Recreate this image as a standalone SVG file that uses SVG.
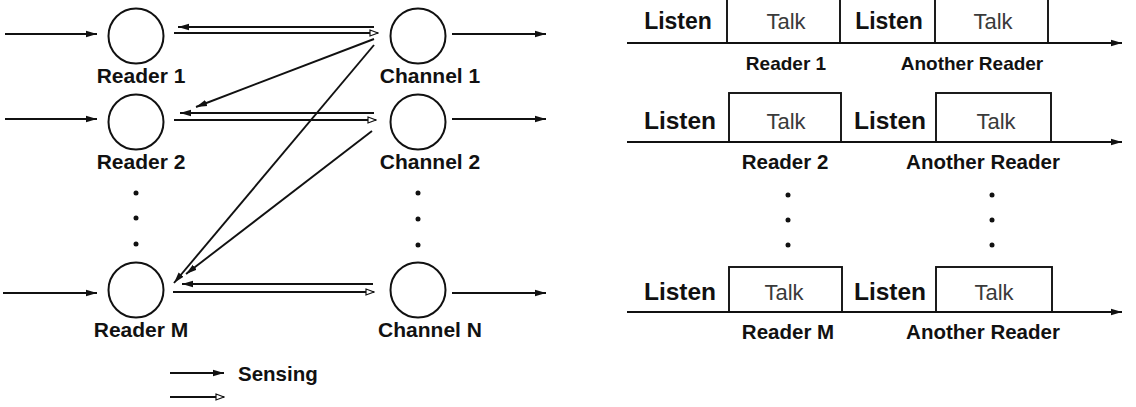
<svg xmlns="http://www.w3.org/2000/svg" width="1136" height="407" viewBox="0 0 1136 407">
  <style>
    .ln { stroke: #111; stroke-width: 1.9; fill: none; }
    .nd { stroke: #111; stroke-width: 2; fill: #fff; }
    .lbl { font-family: "Liberation Sans", Arial, sans-serif; font-weight: bold; font-size: 21px; fill: #111; text-anchor: middle; }
    .sub { font-family: "Liberation Sans", Arial, sans-serif; font-weight: bold; font-size: 20.5px; fill: #111; text-anchor: middle; }
    .sub1 { font-size: 19px; }
    .big { font-family: "Liberation Sans", Arial, sans-serif; font-weight: bold; font-size: 24.5px; fill: #111; text-anchor: middle; }
    .big1 { font-size: 23px; }
    .talk { font-family: "Liberation Sans", Arial, sans-serif; font-size: 22px; fill: #3a3a3a; text-anchor: middle; }
    .dot { fill: #111; }
  </style>
  <defs>
    <marker id="solid" markerUnits="userSpaceOnUse" markerWidth="12" markerHeight="8" refX="11" refY="4" orient="auto">
      <path d="M0,0.8 L11,4 L0,7.2 Z" fill="#111"/>
    </marker>
    <marker id="open" markerUnits="userSpaceOnUse" markerWidth="10" markerHeight="8" refX="9" refY="4" orient="auto">
      <path d="M1,1 L9,4 L1,7 Z" fill="#fff" stroke="#111" stroke-width="1.2"/>
    </marker>
  </defs>

  <!-- readers -->
  <g id="reader-1">
    <circle class="nd" cx="136" cy="36" r="27.5"/>
    <text class="lbl" x="141" y="83">Reader 1</text>
  </g>
  <g id="reader-2">
    <circle class="nd" cx="136" cy="122" r="27.5"/>
    <text class="lbl" x="141" y="169">Reader 2</text>
  </g>
  <g id="reader-m">
    <circle class="nd" cx="136" cy="290" r="27.5"/>
    <text class="lbl" x="141" y="337">Reader M</text>
  </g>

  <!-- channels -->
  <g id="channel-1">
    <circle class="nd" cx="418" cy="36" r="27.5"/>
    <text class="lbl" x="430" y="83">Channel 1</text>
  </g>
  <g id="channel-2">
    <circle class="nd" cx="418" cy="122" r="27.5"/>
    <text class="lbl" x="430" y="169">Channel 2</text>
  </g>
  <g id="channel-n">
    <circle class="nd" cx="418" cy="290" r="27.5"/>
    <text class="lbl" x="430" y="337">Channel N</text>
  </g>

  <!-- vertical ellipsis dots -->
  <g id="ellipsis-left">
    <circle class="dot" cx="136" cy="193" r="2.5"/>
    <circle class="dot" cx="136" cy="218" r="2.5"/>
    <circle class="dot" cx="136" cy="244" r="2.5"/>
    <circle class="dot" cx="418" cy="193" r="2.5"/>
    <circle class="dot" cx="418" cy="219" r="2.5"/>
    <circle class="dot" cx="418" cy="245" r="2.5"/>
  </g>

  <!-- connectors -->
  <g id="connectors">
    <!-- inputs to readers -->
    <line class="ln" x1="5" y1="34" x2="97" y2="34" marker-end="url(#solid)"/>
    <line class="ln" x1="5" y1="119" x2="97" y2="119" marker-end="url(#solid)"/>
    <line class="ln" x1="3" y1="293" x2="97" y2="293" marker-end="url(#solid)"/>
    <!-- channel outputs -->
    <line class="ln" x1="452" y1="34" x2="546" y2="34" marker-end="url(#solid)"/>
    <line class="ln" x1="452" y1="119" x2="546" y2="119" marker-end="url(#solid)"/>
    <line class="ln" x1="452" y1="293" x2="546" y2="293" marker-end="url(#solid)"/>
    <!-- reader 1 / channel 1 pair -->
    <line class="ln" x1="374" y1="27" x2="178" y2="27" marker-end="url(#solid)"/>
    <line class="ln" x1="174" y1="33" x2="378" y2="33" marker-end="url(#open)"/>
    <!-- reader 2 / channel 2 pair -->
    <line class="ln" x1="374" y1="113" x2="180" y2="113" marker-end="url(#solid)"/>
    <line class="ln" x1="174" y1="120" x2="376" y2="120" marker-end="url(#open)"/>
    <!-- reader M / channel N pair -->
    <line class="ln" x1="373" y1="284" x2="182" y2="284" marker-end="url(#solid)"/>
    <line class="ln" x1="173" y1="292" x2="374" y2="292" marker-end="url(#open)"/>
    <!-- cross links -->
    <line class="ln" x1="374" y1="39" x2="196" y2="107" marker-end="url(#solid)"/>
    <line class="ln" x1="374" y1="45" x2="174" y2="283" marker-end="url(#solid)"/>
    <line class="ln" x1="372" y1="131" x2="186" y2="274" marker-end="url(#solid)"/>
    <!-- legend arrows -->
    <line class="ln" x1="170" y1="373" x2="224" y2="373" marker-end="url(#solid)"/>
    <line class="ln" x1="170" y1="397" x2="224" y2="397" marker-end="url(#open)"/>
  </g>
  <text class="sub" x="238" y="381" style="text-anchor:start">Sensing</text>

  <!-- timeline rows -->
  <g id="timeline-1">
    <line class="ln" x1="627" y1="43" x2="1122" y2="43" marker-end="url(#solid)"/>
    <line class="ln" x1="727" y1="0" x2="727" y2="43"/>
    <line class="ln" x1="840" y1="0" x2="840" y2="43"/>
    <line class="ln" x1="935" y1="0" x2="935" y2="43"/>
    <line class="ln" x1="1048" y1="0" x2="1048" y2="43"/>
    <text class="big big1" x="678" y="29">Listen</text>
    <text class="talk" x="786" y="29">Talk</text>
    <text class="big big1" x="889" y="29">Listen</text>
    <text class="talk" x="993" y="29">Talk</text>
    <text class="sub sub1" x="786" y="70">Reader 1</text>
    <text class="sub sub1" x="972" y="70">Another Reader</text>
  </g>
  <g id="timeline-2">
    <line class="ln" x1="627" y1="142" x2="1122" y2="142" marker-end="url(#solid)"/>
    <rect class="ln" x="729" y="93" width="112" height="49"/>
    <rect class="ln" x="936" y="93" width="115" height="49"/>
    <text class="big" x="680" y="129">Listen</text>
    <text class="talk" x="786" y="129">Talk</text>
    <text class="big" x="890" y="129">Listen</text>
    <text class="talk" x="996" y="129">Talk</text>
    <text class="sub" x="785" y="169">Reader 2</text>
    <text class="sub" x="983" y="169">Another Reader</text>
  </g>
  <g id="ellipsis-right">
    <circle class="dot" cx="788" cy="195" r="2.5"/>
    <circle class="dot" cx="788" cy="220" r="2.5"/>
    <circle class="dot" cx="788" cy="245" r="2.5"/>
    <circle class="dot" cx="992" cy="195" r="2.5"/>
    <circle class="dot" cx="992" cy="220" r="2.5"/>
    <circle class="dot" cx="992" cy="245" r="2.5"/>
  </g>
  <g id="timeline-m">
    <line class="ln" x1="627" y1="312" x2="1122" y2="312" marker-end="url(#solid)"/>
    <rect class="ln" x="729" y="267" width="113" height="45"/>
    <rect class="ln" x="936" y="267" width="116" height="45"/>
    <text class="big" x="680" y="300">Listen</text>
    <text class="talk" x="784" y="300">Talk</text>
    <text class="big" x="890" y="300">Listen</text>
    <text class="talk" x="994" y="300">Talk</text>
    <text class="sub" x="788" y="339">Reader M</text>
    <text class="sub" x="983" y="339">Another Reader</text>
  </g>
</svg>
